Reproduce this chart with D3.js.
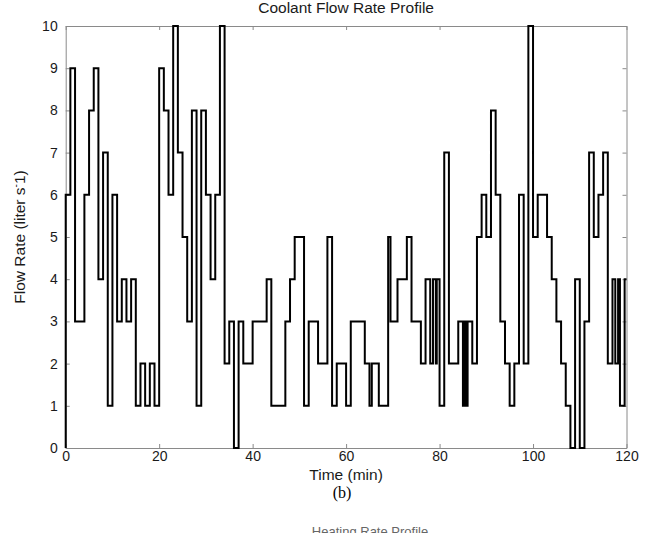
<!DOCTYPE html>
<html>
<head>
<meta charset="utf-8">
<script src="https://cdn.jsdelivr.net/npm/d3@7"></script>
<style>
  body { margin: 0; background: #fff; }
  svg { display: block; font-family: "Liberation Sans", Arial, sans-serif; }
  .axis path, .axis line { stroke: #8a8a8a; stroke-width: 1; }
  .axis text { fill: #1a1a1a; font-size: 14px; }
  .line { fill: none; stroke: #000; stroke-width: 2; }
</style>
</head>
<body>
<div id="graph"></div>
<script>
// step start times (min) and the flow rate held from that time on
var stepTimes = [
  0, 0, 1, 2, 4, 5, 6, 7, 8, 9,
  10, 11, 12, 13, 14, 15, 16, 17, 18, 19,
  20, 21, 22, 23, 24, 25, 26, 27, 28, 29,
  30, 31, 32, 33, 34, 35, 36, 37, 38, 40,
  43, 44, 47, 48, 49, 51, 52, 54, 56, 57,
  58, 60, 61, 64, 65, 65.5, 67, 69, 69.5, 71,
  73, 74, 76, 77, 78, 78.6, 79.2, 79.4, 80, 81,
  82, 84, 85, 85.4, 85.6, 86, 87, 88, 89, 90,
  91, 92, 93, 94, 95, 96, 97, 98, 99, 100,
  101, 103, 104, 105, 106, 107, 108, 109, 110, 111,
  112, 113, 114, 115, 116, 117, 117.6, 118.2, 118.6, 119.6,
  120
];
var flowRates = [
  0, 6, 9, 3, 6, 8, 9, 4, 7, 1,
  6, 3, 4, 3, 4, 1, 2, 1, 2, 1,
  9, 8, 6, 10, 7, 5, 3, 8, 1, 8,
  6, 4, 6, 10, 2, 3, 0, 3, 2, 3,
  4, 1, 3, 4, 5, 1, 3, 2, 5, 1,
  2, 1, 3, 2, 1, 2, 1, 5, 3, 4,
  5, 3, 2, 4, 2, 4, 2, 4, 1, 7,
  2, 3, 1, 3, 1, 3, 2, 5, 6, 5,
  8, 6, 3, 2, 1, 2, 6, 2, 10, 5,
  6, 5, 4, 3, 2, 1, 0, 4, 0, 3,
  7, 5, 6, 7, 2, 4, 2, 4, 1, 4,
  4
];

var xTicks = [0, 20, 40, 60, 80, 100, 120];
var yTicks = [0, 1, 2, 3, 4, 5, 6, 7, 8, 9, 10];

var data = stepTimes.map(function(t, i) {
  return { time: t, value: flowRates[i] };
});

var W = 654, H = 533;
var margin = { top: 26, right: 27.5, bottom: 85, left: 65.7 };
var width = W - margin.left - margin.right;
var height = H - margin.top - margin.bottom;

var svg = d3.select('#graph').append('svg')
  .attr('width', W)
  .attr('height', H);

var g = svg.append('g')
  .attr('transform', 'translate(' + margin.left + ',' + margin.top + ')');

var x = d3.scaleLinear().domain([0, 120]).range([0, width]);
var y = d3.scaleLinear().domain([0, 10]).range([height, 0]);

// four sides of the box, matlab style ticks pointing inward
g.append('g')
  .attr('class', 'axis')
  .attr('transform', 'translate(0,' + height + ')')
  .call(d3.axisBottom(x).tickValues(xTicks).tickSizeInner(-4).tickSizeOuter(0).tickPadding(3));

g.append('g')
  .attr('class', 'axis')
  .call(d3.axisTop(x).tickValues(xTicks).tickSizeInner(-4).tickSizeOuter(0).tickFormat(''));

g.append('g')
  .attr('class', 'axis')
  .call(d3.axisLeft(y).tickValues(yTicks).tickSizeInner(-4).tickSizeOuter(0).tickPadding(8));

g.append('g')
  .attr('class', 'axis')
  .attr('transform', 'translate(' + width + ',0)')
  .call(d3.axisRight(y).tickValues(yTicks).tickSizeInner(-4).tickSizeOuter(0).tickFormat(''));

// the flow profile itself
var valueline = d3.line()
  .curve(d3.curveStepAfter)
  .x(function(d) { return x(d.time); })
  .y(function(d) { return y(d.value); });

g.append('path')
  .datum(data)
  .attr('class', 'line')
  .attr('d', valueline);

// titles
svg.append('text')
  .attr('x', margin.left + width / 2)
  .attr('y', 13)
  .attr('text-anchor', 'middle')
  .style('font-size', '15.5px')
  .style('fill', '#1a1a1a')
  .text('Coolant Flow Rate Profile');

svg.append('text')
  .attr('x', margin.left + width / 2)
  .attr('y', 480)
  .attr('text-anchor', 'middle')
  .style('font-size', '15.5px')
  .style('fill', '#1a1a1a')
  .text('Time (min)');

var ylab = svg.append('text')
  .attr('transform', 'translate(25,' + (margin.top + height / 2) + ') rotate(-90)')
  .attr('text-anchor', 'middle')
  .style('font-size', '15.5px')
  .style('fill', '#1a1a1a');
ylab.append('tspan').text('Flow Rate (liter s');
ylab.append('tspan').attr('dy', -6).style('font-size', '10px').text('-');
ylab.append('tspan').attr('dy', 6).text('1)');

// figure caption and the top of the next panel's title
svg.append('text')
  .attr('x', 342)
  .attr('y', 498)
  .attr('text-anchor', 'middle')
  .style('font-family', '"Liberation Serif", "Times New Roman", serif')
  .style('font-size', '16px')
  .style('fill', '#000')
  .text('(b)');

svg.append('text')
  .attr('x', 370)
  .attr('y', 536)
  .attr('text-anchor', 'middle')
  .style('font-size', '13px')
  .style('fill', '#666')
  .text('Heating Rate Profile');
</script>
</body>
</html>
